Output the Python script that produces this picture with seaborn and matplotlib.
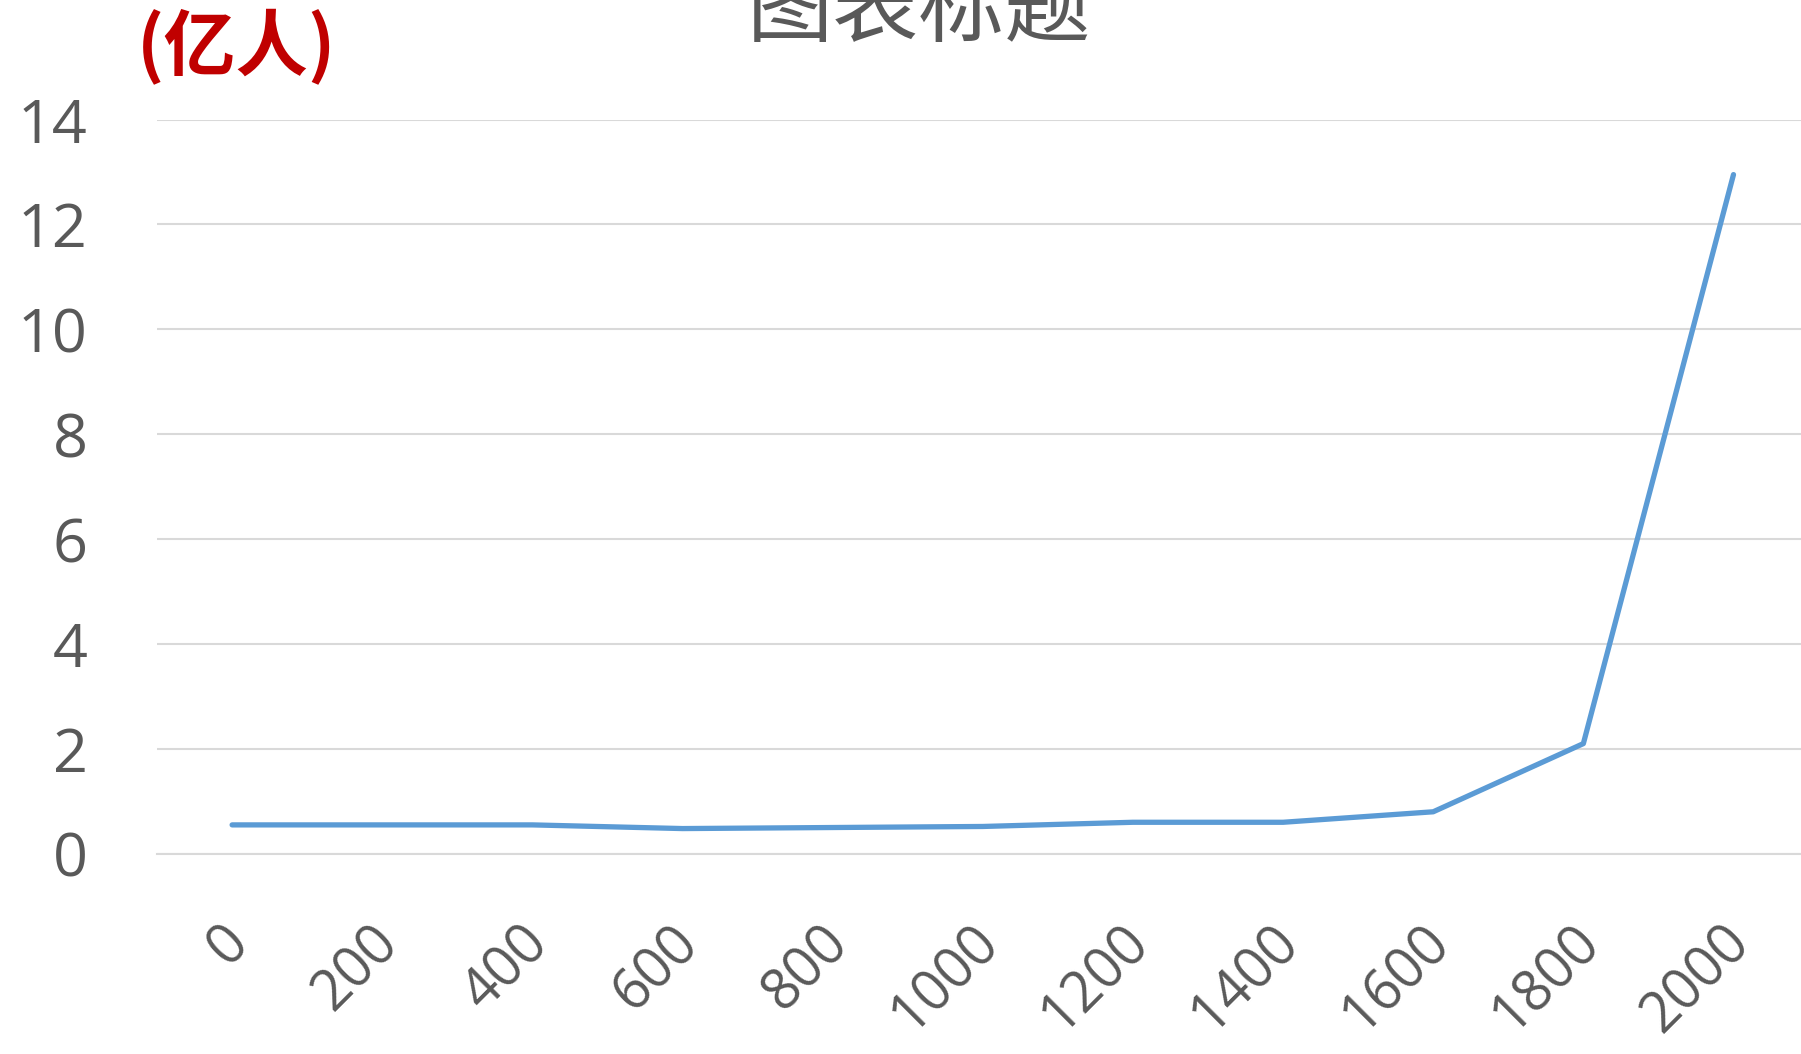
import matplotlib
matplotlib.use("Agg")
import matplotlib.pyplot as plt
import matplotlib.transforms as mtransforms
import pandas as pd
import seaborn as sns

# data (China population, 100 million)
years = ["0", "200", "400", "600", "800", "1000", "1200", "1400", "1600", "1800", "2000"]
population = [0.55, 0.55, 0.55, 0.48, 0.50, 0.52, 0.60, 0.60, 0.80, 2.10, 12.95]
y_ticks = [0, 2, 4, 6, 8, 10, 12, 14]

TEXT_GREY = "#595959"
GRID_GREY = "#D9D9D9"
LINE_BLUE = "#5B9BD5"

sns.set_style("white")
plt.rcParams["font.family"] = ["Open Sans", "Noto Sans CJK SC", "DejaVu Sans"]

df = pd.DataFrame({"year": pd.Categorical(years, categories=years, ordered=True),
                   "pop": population})

fig = plt.figure(figsize=(18.01, 10.54), dpi=100)
ax = fig.add_axes([0.0872, 0.19, 0.917, 0.6966])

sns.lineplot(data=df, x="year", y="pop", ax=ax, color=LINE_BLUE,
             linewidth=3.8, solid_capstyle="round", solid_joinstyle="round")

ax.set_xlim(-0.5, len(years) - 0.5)
ax.set_ylim(0, 14)
ax.set_yticks(y_ticks)
ax.set_xlabel("")
ax.set_ylabel("")

ax.yaxis.grid(True, color=GRID_GREY, linewidth=1.5)
ax.set_axisbelow(True)
for side in ["top", "right", "left"]:
    ax.spines[side].set_visible(False)
ax.spines["bottom"].set_color(GRID_GREY)
ax.spines["bottom"].set_linewidth(1.5)

ax.tick_params(axis="y", length=0, pad=50, labelsize=44, labelcolor=TEXT_GREY)
ax.tick_params(axis="x", length=0, pad=44, labelsize=40, labelcolor=TEXT_GREY)
shift = mtransforms.ScaledTranslation(20 / 72, 0, fig.dpi_scale_trans)
for lab in ax.get_xticklabels():
    lab.set_rotation(45)
    lab.set_ha("right")
    lab.set_va("top")
    lab.set_transform(lab.get_transform() + shift)

# title, cut off at the top like the original
fig.text(0.51, 0.99, "图表标题", ha="center", va="center", fontsize=62,
         color=TEXT_GREY, family=["Noto Sans CJK SC", "DejaVu Sans"], fontweight="light")

# unit label
fig.text(0.1315, 0.954, "(亿人)", ha="center", va="center", fontsize=52,
         color="#C00000", fontweight="bold", family=["Noto Sans CJK SC", "DejaVu Sans"])

fig.savefig("out.png", dpi=100)
